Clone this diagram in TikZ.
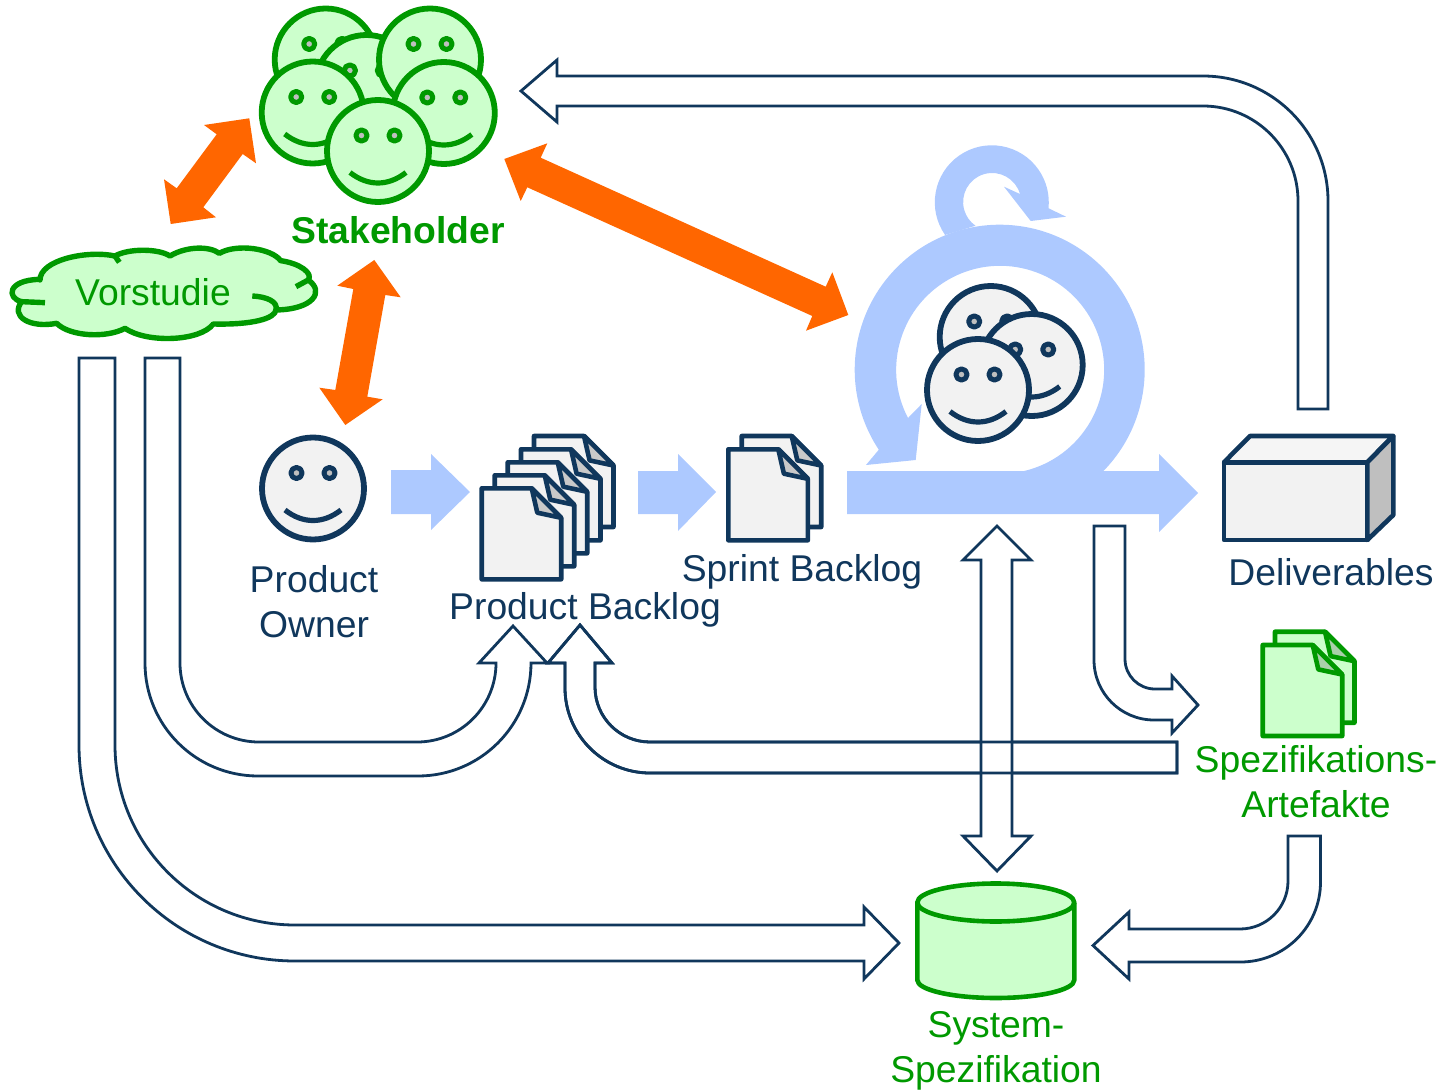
\documentclass[tikz,border=0pt]{standalone}
\usepackage{fontspec}
\setmainfont{Liberation Sans}
\definecolor{dunkelblau}{RGB}{16,55,92}
\definecolor{hellgrau}{RGB}{242,242,242}
\definecolor{mittelgrau}{RGB}{191,191,191}
\definecolor{gruen}{RGB}{0,153,0}
\definecolor{hellgruen}{RGB}{204,255,204}
\definecolor{faltgruen}{RGB}{170,208,170}
\definecolor{orange}{RGB}{255,102,0}
\definecolor{blau}{RGB}{173,201,255}
\tikzset{
  x=1pt,y=-1pt,
  greenitem/.style={draw=gruen,fill=hellgruen,line width=4.6pt,line join=round},
  navyitem/.style={draw=dunkelblau,fill=hellgrau,line width=4.6pt,line join=round},
  flow/.style={draw=dunkelblau,fill=white,line width=2.8pt,line join=miter},
  talk/.style={fill=orange},
  sprint/.style={fill=blau},
  lbl/.style={font={\fontsize{37.3}{45}\selectfont},align=center,inner sep=0pt},
  navy label/.style={lbl,text=dunkelblau},
  green label/.style={lbl,text=gruen},
}
\newcommand{\smiley}[3]{
    \begin{scope}[shift={(#2,#3)}]
    \draw[#1,line width=5.8pt] (0,0) circle (51);
    \foreach \s in {-16.5,16.5}{
        \draw[#1,fill=mittelgrau,line width=5pt] (\s,-15.5) circle (5.6);
    }
    \draw[#1,fill=none,line width=5.2pt] (-28,21.5) .. controls (-10,35.5) and (10,35.5) .. (28,21.5);
    \end{scope}
}
\newcommand{\page}[4]{
    \begin{scope}[shift={(#3,#4)}]
    \draw[#1] (0,0) -- (50,0) -- (79.5,29.5) -- (79.5,91) -- (0,91) -- cycle;
    \draw[#1,fill=#2] (50,0) -- (55.6,24.4) -- (79.5,29.5) -- cycle;
    \end{scope}
}
\newcommand{\specpath}{(1177,742) [rounded corners=55pt] -- (595,742) [sharp corners] -- (595,663) -- (612,663) -- (580,625) -- (548,663) -- (565,663) [rounded corners=85pt] -- (565,773) [sharp corners] -- (1177,773) -- cycle}
\begin{document}
\begin{tikzpicture}
    \useasboundingbox (0,0) rectangle (1451,1091);

    % hollow arrows
    \draw[flow] (1328,409) [rounded corners=125pt] -- (1328,76) [sharp corners] -- (557,76) -- (557,60) -- (521,91) -- (557,122) -- (557,106) [rounded corners=95pt] -- (1298,106) [sharp corners] -- (1298,409) -- cycle;
    \draw[flow] (79,358) [rounded corners=216pt] -- (79,961) [sharp corners] -- (864,961) -- (864,979) -- (899,943) -- (864,907) -- (864,925) [rounded corners=180pt] -- (115,925) [sharp corners] -- (115,358) -- cycle;
    \draw[flow] (145,358) [rounded corners=113pt] -- (145,776) -- (531,776) [sharp corners] -- (531,663) -- (547,663) -- (513,626) -- (479,663) -- (496,663) [rounded corners=79pt] -- (496,742) -- (180,742) [sharp corners] -- (180,358) -- cycle;
    \draw[flow] \specpath;
    \draw[flow] (997,526) -- (1031,560) -- (1012,560) -- (1012,836) -- (1031,836) -- (997,871) -- (963,836) -- (981,836) -- (981,560) -- (963,560) -- cycle;
    \draw[flow,fill=none] \specpath;
    \draw[flow] (1094,526) [rounded corners=60pt] -- (1094,720) [sharp corners] -- (1172,720) -- (1172,733) -- (1198,705) -- (1172,676) -- (1172,689) [rounded corners=30pt] -- (1125,689) [sharp corners] -- (1125,526) -- cycle;
    \draw[flow] (1320.5,836) [rounded corners=80pt] -- (1320.5,962) [sharp corners] -- (1129,962) -- (1129,979) -- (1093,945.5) -- (1129,912) -- (1129,929) [rounded corners=48pt] -- (1288,929) [sharp corners] -- (1288,836) -- cycle;

    % sprint cycle
    \fill[sprint] (391,470) -- (431,470) -- (431,454) -- (470,492) -- (431,530) -- (431,514) -- (391,514) -- cycle;
    \fill[sprint] (638,471) -- (678,471) -- (678,454) -- (716,492) -- (678,531) -- (678,514) -- (638,514) -- cycle;
    \fill[sprint] (847,471) -- (1159,471) -- (1159,454) -- (1198,493) -- (1159,532) -- (1159,514) -- (847,514) -- cycle;
    \fill[sprint] (999.7,369.7) ++(45:145) arc (45:-213.5:145) -- (866,465) -- (915.7,460) -- (921.7,404) -- (908,418) arc (-207.6:80:104) -- cycle;
    \fill[sprint] (991.8,202.3) ++(145:57) arc (145:366:57) -- (1066,216.7) -- (1030.7,221) -- (1004,186.7) -- (1020,194) arc (344:125:29) -- cycle;

    % stakeholder talks
    \fill[talk] (249.3,118.3) -- (256,163.3) -- (242.7,154) -- (203.3,207.3) -- (216,217.3) -- (170.7,224) -- (164,179.3) -- (176.7,188.3) -- (216.7,134.3) -- (204,125) -- cycle;
    \fill[talk] (374.3,260) -- (400.7,297.3) -- (385.3,295) -- (367.3,396.7) -- (382.7,399.3) -- (345.3,425) -- (319.3,387.7) -- (335.3,390) -- (353.3,289) -- (337.3,285.7) -- cycle;
    \fill[talk] (504.3,159) -- (547.3,143.3) -- (540.7,157.7) -- (825.7,286.7) -- (832.3,272.3) -- (848.3,315) -- (806,330.7) -- (812.3,316) -- (527.3,187.3) -- (520.7,201) -- cycle;

    % people
    \foreach \x/\y in {325.7/59.5,366.4/86,430/59.5,312.7/112.5,443.8/113,378/151}{
        \smiley{greenitem}{\x}{\y}
    }
    \foreach \x/\y in {990.7/337,1031.7/365,978/390,313/488.5}{
        \smiley{navyitem}{\x}{\y}
    }

    % documents
    \foreach \x/\y in {534/436,521/449.3,507.7/462.3,494.7/475.3,481.7/488.3,741.7/436,728.3/449.3}{
        \page{navyitem}{mittelgrau!85}{\x}{\y}
    }
    \foreach \x/\y in {1275/631.7,1262.7/645}{
        \page{greenitem}{faltgruen}{\x}{\y}
    }

    % deliverables box
    \draw[navyitem] (1224,462.3) rectangle (1367.3,540);
    \draw[navyitem,fill=hellgrau!80] (1224,462.3) -- (1250,436) -- (1393.3,436) -- (1367.3,462.3) -- cycle;
    \draw[navyitem,fill=mittelgrau] (1367.3,462.3) -- (1393.3,436) -- (1393.3,515) -- (1367.3,540) -- cycle;

    % system store
    \draw[greenitem] (917.3,902.5) -- (917.3,980) arc[start angle=180,end angle=0,x radius=78.5,y radius=18] -- (1074.3,902.5);
    \draw[greenitem] (995.8,902.5) ellipse (78.5 and 19);

    % study cloud
    \begin{scope}[shift={(0,230)},scale=.3333]
    \path[greenitem,line width=5.4pt] (120,150) .. controls (120,90) and (260,60) .. (345,78)
        .. controls (385,55) and (475,55) .. (510,78)
        .. controls (560,48) and (630,48) .. (658,70)
        .. controls (710,40) and (815,55) .. (842,92)
        .. controls (900,100) and (940,130) .. (925,150)
        .. controls (975,185) and (940,238) .. (828,240)
        .. controls (825,265) and (760,285) .. (640,282)
        .. controls (600,335) and (440,340) .. (375,295)
        .. controls (320,325) and (210,320) .. (170,280)
        .. controls (90,295) and (30,260) .. (65,215)
        .. controls (20,205) and (20,150) .. (120,148)
        -- cycle;
    \draw[greenitem,fill=none,line width=5.4pt] (345,78) -- (358,97);
    \draw[greenitem,fill=none,line width=5.4pt] (925,150) -- (888,170);
    \draw[greenitem,fill=none,line width=5.4pt] (828,240) .. controls (835,215) and (800,200) .. (757,198);
    \draw[greenitem,fill=none,line width=5.4pt] (65,215) -- (135,218);
    \end{scope}

    % labels
    \node[green label,font={\fontsize{37.3}{45}\selectfont\bfseries}] (stakeholder) at (398,230) {Stakeholder};
    \node[green label] (vorstudie) at (153,292) {Vorstudie};
    \node[navy label] (owner) at (314,601.5) {Product\\Owner};
    \node[navy label] (productbacklog) at (585,610) {Product Backlog};
    \node[navy label] (sprintbacklog) at (802,572) {Sprint Backlog};
    \node[navy label] (deliverables) at (1331,572) {Deliverables};
    \node[green label] (artefakte) at (1316,782) {Spezifikations-\\Artefakte};
    \node[green label] (system) at (996,1051) {System-\\Spezifikation};
\end{tikzpicture}
\end{document}
